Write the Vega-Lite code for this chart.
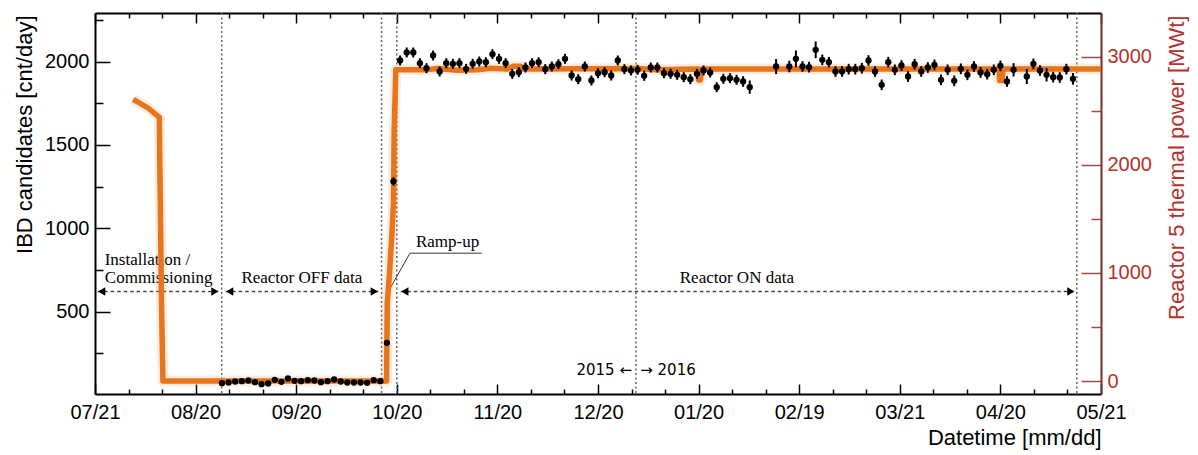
{
"$schema": "https://vega.github.io/schema/vega-lite/v6.json",
"width": 1006, "height": 381,
"autosize": "none",
"padding": {"left": 95, "top": 13, "right": 97, "bottom": 61},
"background": "white",
"config": {"view": {"stroke": null}, "axis": {"grid": false, "labelFont": "Liberation Sans", "titleFont": "Liberation Sans", "titleFontWeight": "normal", "labelColor": "black", "titleColor": "black", "tickColor": "black", "domainColor": "black", "labelFlush": false, "labelOverlap": false}},
"resolve": {"scale": {"x": "independent", "y": "independent"}},
"datasets": {
"ibd": [
{"date":"2015-08-28T12:00:00Z","ibd":70,"err":6},{"date":"2015-08-30T12:00:00Z","ibd":74,"err":6},{"date":"2015-09-01T12:00:00Z","ibd":80,"err":6},{"date":"2015-09-03T12:00:00Z","ibd":82,"err":6},{"date":"2015-09-05T12:00:00Z","ibd":86,"err":6},{"date":"2015-09-07T12:00:00Z","ibd":76,"err":6},{"date":"2015-09-09T12:00:00Z","ibd":64,"err":6},{"date":"2015-09-11T12:00:00Z","ibd":68,"err":6},{"date":"2015-09-13T12:00:00Z","ibd":90,"err":6},{"date":"2015-09-15T12:00:00Z","ibd":78,"err":6},{"date":"2015-09-17T12:00:00Z","ibd":98,"err":6},{"date":"2015-09-19T12:00:00Z","ibd":84,"err":6},{"date":"2015-09-21T12:00:00Z","ibd":82,"err":6},{"date":"2015-09-23T12:00:00Z","ibd":88,"err":6},{"date":"2015-09-25T12:00:00Z","ibd":86,"err":6},{"date":"2015-09-27T12:00:00Z","ibd":76,"err":6},{"date":"2015-09-29T12:00:00Z","ibd":82,"err":6},{"date":"2015-10-01T12:00:00Z","ibd":92,"err":6},{"date":"2015-10-03T12:00:00Z","ibd":80,"err":6},{"date":"2015-10-05T12:00:00Z","ibd":74,"err":6},{"date":"2015-10-07T12:00:00Z","ibd":74,"err":6},{"date":"2015-10-09T12:00:00Z","ibd":74,"err":6},{"date":"2015-10-11T12:00:00Z","ibd":72,"err":6},{"date":"2015-10-13T12:00:00Z","ibd":88,"err":6},{"date":"2015-10-15T12:00:00Z","ibd":82,"err":6},
{"date":"2015-10-17T12:00:00Z","ibd":312,"err":15},{"date":"2015-10-19T12:00:00Z","ibd":1280,"err":25},
{"date":"2015-10-21T12:00:00Z","ibd":2006,"err":30},{"date":"2015-10-23T12:00:00Z","ibd":2054,"err":30},{"date":"2015-10-25T12:00:00Z","ibd":2054,"err":30},{"date":"2015-10-27T12:00:00Z","ibd":1990,"err":30},{"date":"2015-10-29T12:00:00Z","ibd":1960,"err":30},{"date":"2015-10-31T12:00:00Z","ibd":2036,"err":30},{"date":"2015-11-02T12:00:00Z","ibd":1940,"err":30},{"date":"2015-11-04T12:00:00Z","ibd":1990,"err":30},{"date":"2015-11-06T12:00:00Z","ibd":1986,"err":30},{"date":"2015-11-08T12:00:00Z","ibd":1990,"err":30},{"date":"2015-11-10T12:00:00Z","ibd":1956,"err":30},{"date":"2015-11-12T12:00:00Z","ibd":1986,"err":30},{"date":"2015-11-14T12:00:00Z","ibd":2000,"err":30},{"date":"2015-11-16T12:00:00Z","ibd":1996,"err":30},{"date":"2015-11-18T12:00:00Z","ibd":2044,"err":30},{"date":"2015-11-20T12:00:00Z","ibd":2016,"err":30},{"date":"2015-11-22T12:00:00Z","ibd":1990,"err":30},{"date":"2015-11-24T12:00:00Z","ibd":1926,"err":30},{"date":"2015-11-26T12:00:00Z","ibd":1936,"err":30},{"date":"2015-11-28T12:00:00Z","ibd":1964,"err":30},{"date":"2015-11-30T12:00:00Z","ibd":1990,"err":30},{"date":"2015-12-02T12:00:00Z","ibd":1996,"err":30},{"date":"2015-12-04T12:00:00Z","ibd":1954,"err":30},{"date":"2015-12-06T12:00:00Z","ibd":1970,"err":30},{"date":"2015-12-08T12:00:00Z","ibd":1984,"err":30},{"date":"2015-12-10T12:00:00Z","ibd":2016,"err":30},{"date":"2015-12-12T12:00:00Z","ibd":1916,"err":30},{"date":"2015-12-14T12:00:00Z","ibd":1894,"err":30},{"date":"2015-12-16T12:00:00Z","ibd":1970,"err":30},{"date":"2015-12-18T12:00:00Z","ibd":1886,"err":30},{"date":"2015-12-20T12:00:00Z","ibd":1930,"err":30},{"date":"2015-12-22T12:00:00Z","ibd":1936,"err":30},{"date":"2015-12-24T12:00:00Z","ibd":1916,"err":30},{"date":"2015-12-26T12:00:00Z","ibd":2006,"err":30},{"date":"2015-12-28T12:00:00Z","ibd":1954,"err":30},{"date":"2015-12-30T12:00:00Z","ibd":1946,"err":30},{"date":"2016-01-01T12:00:00Z","ibd":1950,"err":30},{"date":"2016-01-03T12:00:00Z","ibd":1914,"err":30},{"date":"2016-01-05T12:00:00Z","ibd":1964,"err":30},{"date":"2016-01-07T12:00:00Z","ibd":1964,"err":30},{"date":"2016-01-09T12:00:00Z","ibd":1930,"err":30},{"date":"2016-01-11T12:00:00Z","ibd":1926,"err":30},{"date":"2016-01-13T12:00:00Z","ibd":1920,"err":30},{"date":"2016-01-15T12:00:00Z","ibd":1906,"err":30},{"date":"2016-01-17T12:00:00Z","ibd":1894,"err":30},{"date":"2016-01-19T12:00:00Z","ibd":1926,"err":30},{"date":"2016-01-21T12:00:00Z","ibd":1946,"err":30},{"date":"2016-01-23T12:00:00Z","ibd":1934,"err":30},{"date":"2016-01-25T12:00:00Z","ibd":1846,"err":30},{"date":"2016-01-27T12:00:00Z","ibd":1896,"err":30},{"date":"2016-01-29T12:00:00Z","ibd":1900,"err":30},{"date":"2016-01-31T12:00:00Z","ibd":1890,"err":30},{"date":"2016-02-02T12:00:00Z","ibd":1880,"err":32},{"date":"2016-02-04T12:00:00Z","ibd":1846,"err":40},
{"date":"2016-02-12T12:00:00Z","ibd":1970,"err":45},{"date":"2016-02-16T12:00:00Z","ibd":1970,"err":35},{"date":"2016-02-18T12:00:00Z","ibd":2016,"err":50},{"date":"2016-02-20T12:00:00Z","ibd":1970,"err":32},{"date":"2016-02-22T12:00:00Z","ibd":1966,"err":32},{"date":"2016-02-24T12:00:00Z","ibd":2070,"err":50},{"date":"2016-02-26T12:00:00Z","ibd":2010,"err":32},{"date":"2016-02-28T12:00:00Z","ibd":1996,"err":32},{"date":"2016-03-01T12:00:00Z","ibd":1940,"err":32},{"date":"2016-03-03T12:00:00Z","ibd":1940,"err":32},{"date":"2016-03-05T12:00:00Z","ibd":1954,"err":32},{"date":"2016-03-07T12:00:00Z","ibd":1954,"err":32},{"date":"2016-03-09T12:00:00Z","ibd":1960,"err":32},{"date":"2016-03-11T12:00:00Z","ibd":2006,"err":32},{"date":"2016-03-13T12:00:00Z","ibd":1940,"err":32},{"date":"2016-03-15T12:00:00Z","ibd":1860,"err":32},{"date":"2016-03-17T12:00:00Z","ibd":1996,"err":32},{"date":"2016-03-19T12:00:00Z","ibd":1950,"err":32},{"date":"2016-03-21T12:00:00Z","ibd":1976,"err":32},{"date":"2016-03-23T12:00:00Z","ibd":1910,"err":32},{"date":"2016-03-25T12:00:00Z","ibd":1984,"err":32},{"date":"2016-03-27T12:00:00Z","ibd":1940,"err":32},{"date":"2016-03-29T12:00:00Z","ibd":1964,"err":32},{"date":"2016-03-31T12:00:00Z","ibd":1980,"err":32},{"date":"2016-04-02T12:00:00Z","ibd":1890,"err":32},{"date":"2016-04-04T12:00:00Z","ibd":1950,"err":32},{"date":"2016-04-06T12:00:00Z","ibd":1884,"err":32},{"date":"2016-04-08T12:00:00Z","ibd":1956,"err":32},{"date":"2016-04-10T12:00:00Z","ibd":1920,"err":32},{"date":"2016-04-12T12:00:00Z","ibd":1970,"err":32},{"date":"2016-04-14T12:00:00Z","ibd":1934,"err":32},{"date":"2016-04-16T12:00:00Z","ibd":1924,"err":32},{"date":"2016-04-18T12:00:00Z","ibd":1950,"err":32},{"date":"2016-04-20T12:00:00Z","ibd":1974,"err":32},{"date":"2016-04-22T12:00:00Z","ibd":1880,"err":32},{"date":"2016-04-24T12:00:00Z","ibd":1950,"err":40},{"date":"2016-04-28T12:00:00Z","ibd":1910,"err":45},{"date":"2016-04-30T12:00:00Z","ibd":1986,"err":32},{"date":"2016-05-02T12:00:00Z","ibd":1946,"err":32},{"date":"2016-05-04T12:00:00Z","ibd":1920,"err":40},{"date":"2016-05-06T12:00:00Z","ibd":1906,"err":32},{"date":"2016-05-08T12:00:00Z","ibd":1904,"err":32},{"date":"2016-05-10T12:00:00Z","ibd":1954,"err":32},{"date":"2016-05-12T12:00:00Z","ibd":1896,"err":35}
],
"power": [
{"date":"2015-08-01T14:24:00Z","mwt":2606},{"date":"2015-08-06T04:48:00Z","mwt":2523},{"date":"2015-08-09T04:48:00Z","mwt":2445},{"date":"2015-08-09T12:00:00Z","mwt":2440},{"date":"2015-08-09T16:48:00Z","mwt":1890},{"date":"2015-08-10T04:48:00Z","mwt":650},{"date":"2015-08-10T14:24:00Z","mwt":0},{"date":"2015-10-17T09:36:00Z","mwt":0},{"date":"2015-10-17T14:24:00Z","mwt":720},{"date":"2015-10-18T07:12:00Z","mwt":1000},{"date":"2015-10-19T00:00:00Z","mwt":1350},{"date":"2015-10-19T12:00:00Z","mwt":1650},{"date":"2015-10-19T16:48:00Z","mwt":2300},{"date":"2015-10-20T04:48:00Z","mwt":2880},{"date":"2015-10-29T00:00:00Z","mwt":2878},{"date":"2015-11-02T00:00:00Z","mwt":2890},{"date":"2015-11-08T00:00:00Z","mwt":2875},{"date":"2015-11-14T00:00:00Z","mwt":2880},{"date":"2015-11-18T00:00:00Z","mwt":2892},{"date":"2015-11-23T00:00:00Z","mwt":2885},{"date":"2015-11-24T19:00:00Z","mwt":2912},{"date":"2015-11-27T00:00:00Z","mwt":2912},{"date":"2015-11-28T00:00:00Z","mwt":2885},{"date":"2015-12-18T00:00:00Z","mwt":2888},{"date":"2016-01-02T00:00:00Z","mwt":2890},{"date":"2016-01-07T00:00:00Z","mwt":2880},{"date":"2016-01-19T19:00:00Z","mwt":2885},{"date":"2016-01-20T00:00:00Z","mwt":2785},{"date":"2016-01-20T14:00:00Z","mwt":2785},{"date":"2016-01-20T19:00:00Z","mwt":2885},{"date":"2016-04-20T02:00:00Z","mwt":2885},{"date":"2016-04-20T07:00:00Z","mwt":2780},{"date":"2016-04-21T02:00:00Z","mwt":2780},{"date":"2016-04-21T07:00:00Z","mwt":2885},{"date":"2016-05-21T00:00:00Z","mwt":2885}
],
"vlines": [{"date":"2015-08-28T10:00:00Z"},{"date":"2015-10-15T21:00:00Z"},{"date":"2015-10-20T12:00:00Z"},{"date":"2016-01-01T00:00:00Z"},{"date":"2016-05-13T16:00:00Z"}],
"arrows": [{"start":"2015-07-21T19:40:00Z","end":"2015-08-27T14:00:00Z","ibd":620},{"start":"2015-08-29T15:00:00Z","end":"2015-10-14T21:30:00Z","ibd":620},{"start":"2015-10-21T17:00:00Z","end":"2016-05-13T02:00:00Z","ibd":620}],
"ramp": [{"date":"2015-10-17T22:20:00Z","ibd":620},{"date":"2015-10-24T12:00:00Z","ibd":850},{"date":"2015-11-15T06:00:00Z","ibd":850}],
"notes": [{"date":"2015-08-05T21:36:00Z","ibd":780,"text":"Installation /"},{"date":"2015-08-09T07:12:00Z","ibd":670,"text":"Commissioning"},{"date":"2015-09-21T16:48:00Z","ibd":670,"text":"Reactor OFF data"},{"date":"2015-11-04T21:36:00Z","ibd":890,"text":"Ramp-up"},{"date":"2016-01-31T14:24:00Z","ibd":670,"text":"Reactor ON data"}]
},
"layer": [
{"data": {"name": "vlines"}, "mark": {"type": "rule", "color": "#666666", "strokeWidth": 1.5, "strokeDash": [2, 2.5]},
 "encoding": {"x": {"field": "date", "type": "temporal", "scale": {"type": "utc", "domain": [{"year":2015,"month":7,"date":21,"utc":true},{"year":2016,"month":5,"date":21,"utc":true}], "nice": false}, "axis": null}}},
{"data": {"name": "arrows"}, "mark": {"type": "rule", "color": "#444444", "strokeWidth": 1.5, "strokeDash": [3.5, 3]},
 "encoding": {"x": {"field": "start", "type": "temporal", "scale": {"type": "utc", "domain": [{"year":2015,"month":7,"date":21,"utc":true},{"year":2016,"month":5,"date":21,"utc":true}], "nice": false}, "axis": null},
  "x2": {"field": "end"},
  "y": {"field": "ibd", "type": "quantitative", "scale": {"domain": [5, 2291], "nice": false, "zero": false}, "axis": null}}},
{"data": {"name": "arrows"}, "mark": {"type": "point", "shape": "triangle-left", "filled": true, "color": "black", "size": 70, "opacity": 1, "xOffset": 4},
 "encoding": {"x": {"field": "start", "type": "temporal", "scale": {"type": "utc", "domain": [{"year":2015,"month":7,"date":21,"utc":true},{"year":2016,"month":5,"date":21,"utc":true}], "nice": false},
   "axis": {"orient": "bottom", "values": [1438315200000,1439193600000,1440950400000,1441828800000,1443585600000,1444464000000,1446220800000,1447099200000,1448856000000,1449734400000,1451491200000,1452369600000,1454126400000,1455004800000,1456761600000,1457640000000,1459396800000,1460275200000,1462032000000,1462910400000], "labels": false, "domain": false, "tickSize": -5, "tickWidth": 1.5, "title": null}},
  "y": {"field": "ibd", "type": "quantitative", "scale": {"domain": [5, 2291], "nice": false, "zero": false},
   "axis": {"orient": "left", "values": [250, 750, 1250, 1750, 2250], "labels": false, "domain": false, "tickSize": -8, "tickWidth": 1.5, "title": null}}}},
{"data": {"name": "arrows"}, "mark": {"type": "point", "shape": "triangle-right", "filled": true, "color": "black", "size": 70, "opacity": 1, "xOffset": -4},
 "encoding": {"x": {"field": "end", "type": "temporal", "scale": {"type": "utc", "domain": [{"year":2015,"month":7,"date":21,"utc":true},{"year":2016,"month":5,"date":21,"utc":true}], "nice": false}, "axis": null},
  "y": {"field": "ibd", "type": "quantitative", "scale": {"domain": [5, 2291], "nice": false, "zero": false}, "axis": null}}},
{"data": {"name": "ramp"}, "mark": {"type": "line", "color": "#333333", "strokeWidth": 1},
 "encoding": {"x": {"field": "date", "type": "temporal", "scale": {"type": "utc", "domain": [{"year":2015,"month":7,"date":21,"utc":true},{"year":2016,"month":5,"date":21,"utc":true}], "nice": false}, "axis": null},
  "y": {"field": "ibd", "type": "quantitative", "scale": {"domain": [5, 2291], "nice": false, "zero": false}, "axis": null}}},
{"data": {"name": "notes"}, "mark": {"type": "text", "font": "Liberation Serif", "fontSize": 17, "align": "center", "baseline": "alphabetic", "color": "black"},
 "encoding": {"x": {"field": "date", "type": "temporal", "scale": {"type": "utc", "domain": [{"year":2015,"month":7,"date":21,"utc":true},{"year":2016,"month":5,"date":21,"utc":true}], "nice": false}, "axis": null},
  "y": {"field": "ibd", "type": "quantitative", "scale": {"domain": [5, 2291], "nice": false, "zero": false}, "axis": null},
  "text": {"field": "text"}}},
{"data": {"values": [{"date":"2015-12-30T19:12:00Z","ibd":120,"text":"2015 ←"}]}, "mark": {"type": "text", "font": "DejaVu Sans", "fontSize": 15, "align": "right", "baseline": "alphabetic", "color": "black"},
 "encoding": {"x": {"field": "date", "type": "temporal", "scale": {"type": "utc", "domain": [{"year":2015,"month":7,"date":21,"utc":true},{"year":2016,"month":5,"date":21,"utc":true}], "nice": false}, "axis": null},
  "y": {"field": "ibd", "type": "quantitative", "scale": {"domain": [5, 2291], "nice": false, "zero": false}, "axis": null},
  "text": {"field": "text"}}},
{"data": {"values": [{"date":"2016-01-02T07:12:00Z","ibd":120,"text":"→ 2016"}]}, "mark": {"type": "text", "font": "DejaVu Sans", "fontSize": 15, "align": "left", "baseline": "alphabetic", "color": "black"},
 "encoding": {"x": {"field": "date", "type": "temporal", "scale": {"type": "utc", "domain": [{"year":2015,"month":7,"date":21,"utc":true},{"year":2016,"month":5,"date":21,"utc":true}], "nice": false}, "axis": null},
  "y": {"field": "ibd", "type": "quantitative", "scale": {"domain": [5, 2291], "nice": false, "zero": false}, "axis": null},
  "text": {"field": "text"}}},
{"data": {"name": "power"}, "mark": {"type": "line", "color": "#f29a55", "strokeWidth": 11, "opacity": 0.18, "strokeJoin": "round"},
 "encoding": {"x": {"field": "date", "type": "temporal", "scale": {"type": "utc", "domain": [{"year":2015,"month":7,"date":21,"utc":true},{"year":2016,"month":5,"date":21,"utc":true}], "nice": false},
   "axis": {"orient": "top", "values": [1438315200000,1439193600000,1440950400000,1441828800000,1443585600000,1444464000000,1446220800000,1447099200000,1448856000000,1449734400000,1451491200000,1452369600000,1454126400000,1455004800000,1456761600000,1457640000000,1459396800000,1460275200000,1462032000000,1462910400000], "labels": false, "domain": false, "tickSize": -5, "tickWidth": 1.5, "title": null}},
  "y": {"field": "mwt", "type": "quantitative", "scale": {"domain": [-120, 3404], "nice": false, "zero": false},
   "axis": {"orient": "right", "values": [500, 1500, 2500], "labels": false, "domain": false, "tickSize": -10, "tickWidth": 1.5, "tickColor": "#a04848", "title": null}}}},
{"data": {"name": "power"}, "mark": {"type": "line", "color": "#e8741c", "strokeWidth": 5.5, "strokeJoin": "round"},
 "encoding": {"x": {"field": "date", "type": "temporal", "scale": {"type": "utc", "domain": [{"year":2015,"month":7,"date":21,"utc":true},{"year":2016,"month":5,"date":21,"utc":true}], "nice": false},
   "axis": {"orient": "top", "values": [1437436800000,1440072000000,1442707200000,1445342400000,1447977600000,1450612800000,1453248000000,1455883200000,1458518400000,1461153600000,1463788800000], "labels": false, "domain": true, "domainWidth": 2, "tickSize": -10, "tickWidth": 1.5, "title": null}},
  "y": {"field": "mwt", "type": "quantitative", "scale": {"domain": [-120, 3404], "nice": false, "zero": false},
   "axis": {"orient": "right", "values": [0, 1000, 2000, 3000], "format": "d", "domain": true, "domainWidth": 2, "domainColor": "#7c2a25", "tickSize": -20, "tickWidth": 1.5, "tickColor": "#a04848", "labelColor": "#b5312b", "labelFontSize": 20, "labelPadding": 26, "title": "Reactor 5 thermal power [MWt]", "titleColor": "#b5312b", "titleFontSize": 22, "titleAngle": 270, "titleAlign": "right", "titleBaseline": "middle", "titleX": 75, "titleY": 2}}}},
{"data": {"name": "ibd"}, "mark": {"type": "errorbar", "color": "black", "thickness": 2},
 "encoding": {"x": {"field": "date", "type": "temporal", "scale": {"type": "utc", "domain": [{"year":2015,"month":7,"date":21,"utc":true},{"year":2016,"month":5,"date":21,"utc":true}], "nice": false}, "axis": null},
  "y": {"field": "ibd", "type": "quantitative", "scale": {"domain": [5, 2291], "nice": false, "zero": false}, "axis": null},
  "yError": {"field": "err"}}},
{"data": {"name": "ibd"}, "mark": {"type": "point", "filled": true, "color": "black", "size": 40, "opacity": 1},
 "encoding": {"x": {"field": "date", "type": "temporal", "scale": {"type": "utc", "domain": [{"year":2015,"month":7,"date":21,"utc":true},{"year":2016,"month":5,"date":21,"utc":true}], "nice": false},
   "axis": {"orient": "bottom", "values": [1437436800000,1440072000000,1442707200000,1445342400000,1447977600000,1450612800000,1453248000000,1455883200000,1458518400000,1461153600000,1463788800000], "format": "%m/%d", "domain": true, "domainWidth": 2, "tickSize": -10, "tickWidth": 1.5, "labelFontSize": 20, "labelPadding": 18, "title": "Datetime [mm/dd]", "titleFontSize": 22, "titleAlign": "right", "titleAnchor": "end", "titleBaseline": "alphabetic", "titleX": 1006, "titleY": 50}},
  "y": {"field": "ibd", "type": "quantitative", "scale": {"domain": [5, 2291], "nice": false, "zero": false},
   "axis": {"orient": "left", "values": [500, 1000, 1500, 2000], "format": "d", "domain": true, "domainWidth": 2, "tickSize": -15, "tickWidth": 1.5, "labelFontSize": 20, "labelPadding": 21, "title": "IBD candidates [cnt/day]", "titleFontSize": 22, "titleAngle": 270, "titleAlign": "right", "titleBaseline": "middle", "titleX": -71, "titleY": 2}}}}
]
}
